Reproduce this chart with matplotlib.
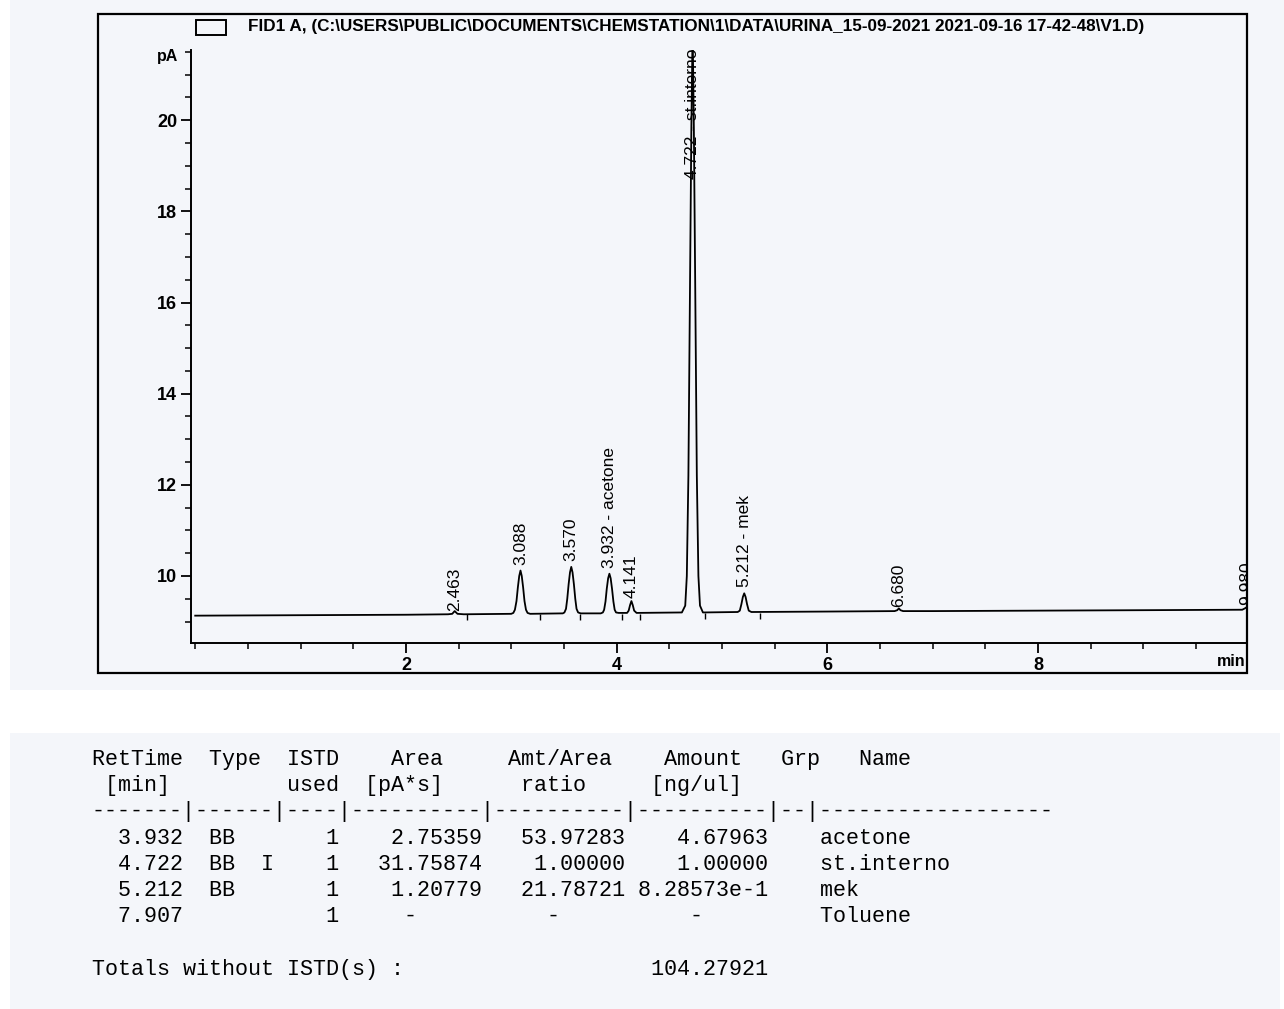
import matplotlib
matplotlib.use('Agg')
import matplotlib.pyplot as plt
from matplotlib.patches import Rectangle
from matplotlib.ticker import MultipleLocator

# chromatogram trace (time in min, signal in pA)
trace_time = [0.00, 1.00, 2.00, 2.40, 2.44, 2.463, 2.49, 2.55,
              3.00, 3.02, 3.035, 3.05, 3.063, 3.076, 3.088, 3.10, 3.113, 3.126, 3.14, 3.155, 3.18,
              3.49, 3.505, 3.52, 3.532, 3.545, 3.558, 3.570, 3.582, 3.595, 3.608, 3.62, 3.635, 3.66,
              3.85, 3.87, 3.882, 3.895, 3.907, 3.92, 3.932, 3.944, 3.957, 3.97, 3.982, 3.995, 4.02,
              4.10, 4.115, 4.128, 4.141, 4.154, 4.167, 4.19,
              4.62, 4.652, 4.667, 4.682, 4.697, 4.710, 4.722, 4.734, 4.747, 4.762, 4.777, 4.792, 4.82,
              5.15, 5.17, 5.185, 5.199, 5.212, 5.225, 5.239, 5.255, 5.28,
              6.00, 6.64, 6.665, 6.680, 6.695, 6.72, 7.00, 8.00, 9.00, 9.94, 9.965, 9.985]
trace_pa = [9.13, 9.14, 9.15, 9.16, 9.17, 9.23, 9.17, 9.16,
            9.17, 9.19, 9.26, 9.45, 9.75, 10.00, 10.12, 10.00, 9.75, 9.45, 9.26, 9.19, 9.17,
            9.18, 9.20, 9.28, 9.50, 9.82, 10.08, 10.20, 10.08, 9.82, 9.50, 9.28, 9.20, 9.18,
            9.18, 9.20, 9.26, 9.44, 9.72, 9.95, 10.05, 9.95, 9.72, 9.44, 9.26, 9.20, 9.19,
            9.19, 9.24, 9.36, 9.45, 9.36, 9.24, 9.19,
            9.20, 9.35, 10.00, 12.20, 16.30, 19.80, 22.00, 19.80, 16.30, 12.20, 10.00, 9.35, 9.20,
            9.21, 9.24, 9.38, 9.54, 9.62, 9.54, 9.38, 9.24, 9.21,
            9.22, 9.23, 9.25, 9.29, 9.25, 9.23, 9.23, 9.24, 9.25, 9.26, 9.29, 9.32]

# integration end marks below the baseline
mark_times = [2.58, 3.27, 3.65, 4.05, 4.22, 4.84, 5.36]
mark_pa = [9.10, 9.10, 9.11, 9.11, 9.11, 9.12, 9.12]

# peak annotations
label_times = [2.463, 3.088, 3.570, 3.932, 4.141, 4.722, 5.212, 6.680, 9.980]
label_texts = ['2.463', '3.088', '3.570', '3.932 - acetone', '4.141',
               '4.722 - st.interno', '5.212 - mek', '6.680', '9.980']
label_pa = [9.23, 10.24, 10.32, 10.17, 9.52, 18.70, 9.76, 9.33, 9.36]

# report table
ret_times = ['3.932', '4.722', '5.212', '7.907']
peak_types = ['BB', 'BB', 'BB', '']
istd_flags = ['', 'I', '', '']
istd_used = ['1', '1', '1', '1']
areas = ['2.75359', '31.75874', '1.20779', '-']
ratios = ['53.97283', '1.00000', '21.78721', '-']
amounts = ['4.67963', '1.00000', '8.28573e-1', '-']
names = ['acetone', 'st.interno', 'mek', 'Toluene']
total_amount = '104.27921'

title = r'FID1 A, (C:\USERS\PUBLIC\DOCUMENTS\CHEMSTATION\1\DATA\URINA_15-09-2021 2021-09-16 17-42-48\V1.D)'

W, H = 1284, 1009
fig = plt.figure(figsize=(W / 100, H / 100), dpi=100, facecolor='white')

def box(x0, y0, x1, y1, **kw):
    # pixel box (top-left origin) -> figure rectangle
    return Rectangle((x0 / W, 1 - y1 / H), (x1 - x0) / W, (y1 - y0) / H,
                     transform=fig.transFigure, **kw)

paper = '#f4f6fa'
fig.patches.append(box(10, 0, 1284, 690, facecolor=paper, edgecolor='none', zorder=-10))
fig.patches.append(box(10, 733, 1280, 1009, facecolor=paper, edgecolor='none', zorder=-10))
fig.patches.append(box(98, 14, 1247, 673, facecolor='none', edgecolor='black', lw=1.6, zorder=5))
fig.patches.append(box(196, 20, 226, 35, facecolor='none', edgecolor='black', lw=1.4, zorder=5))

fig.text(248 / W, 1 - 27 / H, title, ha='left', va='center', fontsize=12.3,
         family=['Liberation Sans Narrow', 'Liberation Sans'], weight='bold')

ax = fig.add_axes([191 / W, 1 - 643 / H, (1247 - 191) / W, (643 - 50) / H])
ax.set_facecolor('none')
ax.plot(trace_time, trace_pa, color='black', lw=1.3)
ax.plot(mark_times, mark_pa, ls='none', marker='|', ms=5, mew=1.0, color='black')
for t, s, y in zip(label_times, label_texts, label_pa):
    ax.text(t, y, s, rotation=90, ha='center', va='bottom', fontsize=12.5,
            family='Liberation Sans', clip_on=True)

ax.set_xlim(-0.04, 9.985)
ax.set_ylim(8.53, 21.54)
ax.xaxis.set_minor_locator(MultipleLocator(0.5))
ax.yaxis.set_minor_locator(MultipleLocator(0.5))
ax.set_xticks([2, 4, 6, 8])
ax.set_yticks([10, 12, 14, 16, 18, 20])
for side in ['top', 'right']:
    ax.spines[side].set_visible(False)
for side in ['left', 'bottom']:
    ax.spines[side].set_linewidth(1.4)
ax.tick_params(which='major', length=7, width=1.3, labelsize=13, pad=3)
ax.tick_params(which='minor', length=4, width=1.1)
for lab in ax.get_xticklabels() + ax.get_yticklabels():
    lab.set_family('Liberation Sans')
    lab.set_weight('bold')
fig.text(178 / W, 1 - 57 / H, 'pA', ha='right', va='center', fontsize=11.5,
         family='Liberation Sans', weight='bold')
fig.text(1246 / W, 1 - 662 / H, 'min', ha='right', va='center', fontsize=11.5,
         family='Liberation Sans', weight='bold')

# table as fixed-width text
def place(tokens):
    line = [' '] * 80
    for col, tok in tokens:
        line[col:col + len(tok)] = list(tok)
    return ''.join(line).rstrip()

def field(v, width):
    return '    -     ' if v == '-' else v.rjust(width)

lines = [
    place([(0, 'RetTime'), (9, 'Type'), (15, 'ISTD'), (23, 'Area'), (32, 'Amt/Area'),
           (44, 'Amount'), (53, 'Grp'), (59, 'Name')]),
    place([(1, '[min]'), (15, 'used'), (21, '[pA*s]'), (33, 'ratio'), (43, '[ng/ul]')]),
    '|'.join('-' * n for n in [7, 6, 4, 10, 10, 10, 2, 18]),
]
for i in range(len(ret_times)):
    lines.append(place([(0, ret_times[i].rjust(7)), (9, peak_types[i]), (13, istd_flags[i]),
                        (15, istd_used[i].rjust(4)), (20, field(areas[i], 10)),
                        (31, field(ratios[i], 10)), (42, field(amounts[i], 10)),
                        (56, names[i])]))
row_y = [760, 786, 812, 839, 865, 891, 917]
for s, y in zip(lines, row_y):
    fig.text(92 / W, 1 - y / H, s, ha='left', va='center', fontsize=15.7,
             family='Liberation Mono')
fig.text(92 / W, 1 - 969 / H, place([(0, 'Totals without ISTD(s) :'), (42, total_amount.rjust(10))]),
         ha='left', va='center', fontsize=15.7, family='Liberation Mono')

fig.savefig('out.png', dpi=100)
